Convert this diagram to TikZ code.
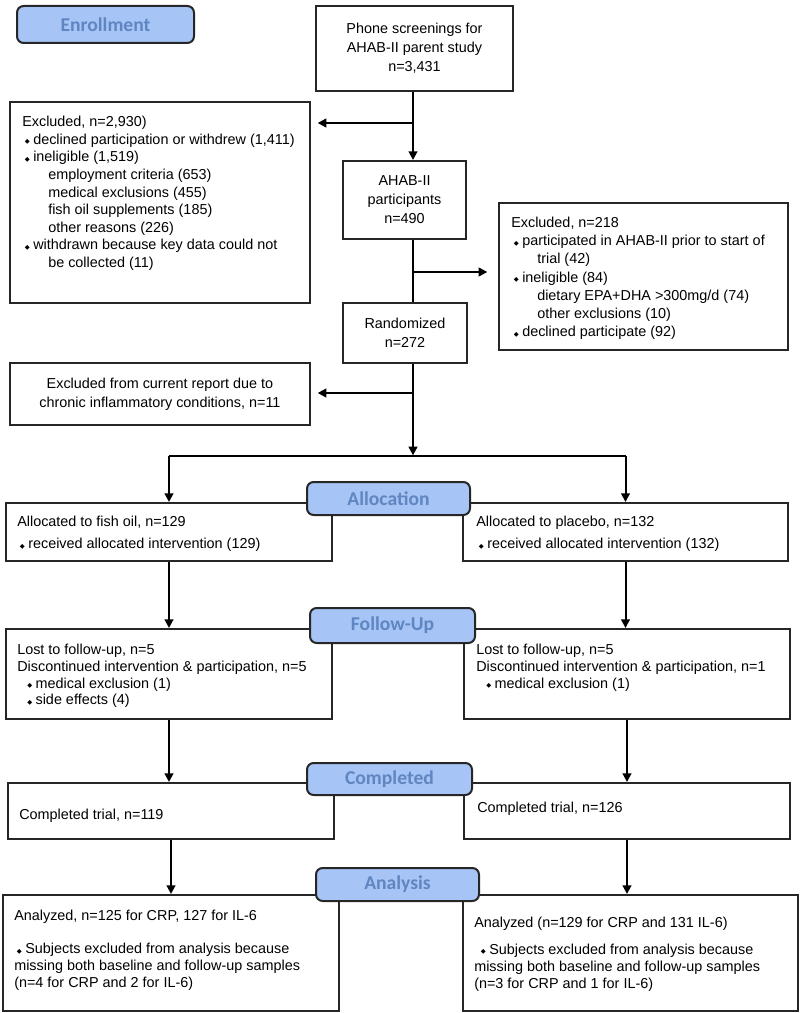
\documentclass[tikz,border=0pt]{standalone}
\usepackage{fontspec}
\setmainfont{Liberation Sans}
\newfontfamily\stagefont{Carlito}
\newfontfamily\symfont{DejaVu Sans}
\usetikzlibrary{arrows.meta}
\definecolor{stagefill}{HTML}{A6C4F5}
\definecolor{stagetext}{HTML}{5F86C0}
\newcommand\dia{\makebox[8.25pt][l]{\hspace{2pt}\raisebox{0.3pt}{\symfont\fontsize{4.8}{5}\selectfont ◆}}}

\begin{document}
\begin{tikzpicture}[x=0.75pt,y=-0.75pt]
\tikzset{sz/.style 2 args={minimum width=#1*0.75pt, minimum height=#2*0.75pt}}
\tikzset{box/.style={draw=black!85, line width=1.5pt, inner sep=0pt, align=center,
    font=\fontsize{10.8}{14.2}\selectfont}}
\tikzset{txt/.style={inner sep=0pt, align=left, font=\fontsize{10.8}{13.2}\selectfont}}
\tikzset{stage/.style={draw=black!85, line width=1.5pt, fill=stagefill, rounded corners=5pt,
    inner sep=0pt, text=stagetext, font=\stagefont\bfseries\fontsize{14.7}{15}\selectfont}}
\tikzset{arr/.style={line width=1.5pt, -{Triangle[width=6.5pt,length=6.5pt]}}}
\tikzset{ln/.style={line width=1.5pt}}
\useasboundingbox (0,0) rectangle (800,1013);

% enrollment
\node[box, sz={197}{85}] (phone) at (414.5,48.5) {Phone screenings for\\AHAB-II parent study\\n=3,431};
\node[box, sz={300}{201}] (exa) at (160,202.5) {};
\node[txt, anchor=north west] (exatxt) at (22,116) {Excluded, n=2,930)\\
  \dia declined participation or withdrew (1,411)\\
  \dia ineligible (1,519)\\
  \hspace*{19.5pt}employment criteria (653)\\
  \hspace*{19.5pt}medical exclusions (455)\\
  \hspace*{19.5pt}fish oil supplements (185)\\
  \hspace*{19.5pt}other reasons (226)\\
  \dia withdrawn because key data could not\\
  \hspace*{19.5pt}be collected (11)};
\node[box, sz={123}{78}] (ahab) at (404.5,200) {AHAB-II\\participants\\n=490};
\node[box, sz={289}{147}] (exb) at (643.5,276.5) {};
\node[txt, anchor=north west, font=\fontsize{10.8}{13.6}\selectfont] (exbtxt) at (511,217) {Excluded, n=218\\
  \dia participated in AHAB-II prior to start of\\
  \hspace*{19.5pt}trial (42)\\
  \dia ineligible (84)\\
  \hspace*{19.5pt}dietary EPA+DHA >300mg/d (74)\\
  \hspace*{19.5pt}other exclusions (10)\\
  \dia declined participate (92)};
\node[box, sz={124}{60}] (rand) at (405,333) {Randomized\\n=272};
\node[box, sz={300}{62}] (exc) at (160,394) {Excluded from current report due to\\chronic inflammatory conditions, n=11};

% allocation
\node[box, sz={326}{58}] (fish) at (169,532) {};
\node[txt, anchor=north west] (fishtxt) at (17,516) {Allocated to fish oil, n=129\\[3.5pt]
  \dia received allocated intervention (129)};
\node[box, sz={325}{58}] (plac) at (625.5,532) {};
\node[txt, anchor=north west] (plactxt) at (476,516) {Allocated to placebo, n=132\\[3.5pt]
  \dia received allocated intervention (132)};

% follow-up
\node[box, sz={326}{90}] (lostl) at (169,674) {};
\node[txt, anchor=north west, font=\fontsize{10.8}{12.5}\selectfont] (lostltxt) at (17,644) {Lost to follow-up, n=5\\
  Discontinued intervention \& participation, n=5\\
  \hspace*{5.5pt}\dia medical exclusion (1)\\
  \hspace*{5.5pt}\dia side effects (4)};
\node[box, sz={326}{90}] (lostr) at (627,674) {};
\node[txt, anchor=north west, font=\fontsize{10.8}{12.5}\selectfont] (lostrtxt) at (476,644) {Lost to follow-up, n=5\\
  Discontinued intervention \& participation, n=1\\
  \hspace*{5.5pt}\dia medical exclusion (1)};

% completed
\node[box, sz={326}{56}] (compl) at (171,811) {};
\node[txt, anchor=west] (compltxt) at (19,816) {Completed trial, n=119};
\node[box, sz={326}{56}] (compr) at (627,811) {};
\node[txt, anchor=west] (comprtxt) at (477,809) {Completed trial, n=126};

% analysis
\node[box, sz={336}{116}] (anal) at (171,953) {};
\node[txt, anchor=north west, font=\fontsize{10.8}{12.75}\selectfont] (analtxt) at (14,910) {Analyzed, n=125 for CRP, 127 for IL-6\\[12pt]
  \dia Subjects excluded from analysis because\\
  missing both baseline and follow-up samples\\
  (n=4 for CRP and 2 for IL-6)};
\node[box, sz={335}{116}] (anar) at (630.5,953) {};
\node[txt, anchor=north west, font=\fontsize{10.8}{12.75}\selectfont] (anartxt) at (474,917) {Analyzed (n=129 for CRP and 131 IL-6)\\[7pt]
  \hspace*{3pt}\dia Subjects excluded from analysis because\\
  missing both baseline and follow-up samples\\
  (n=3 for CRP and 1 for IL-6)};

% connectors
\coordinate (spine) at (413,0);
\coordinate (b1) at (spine |- 0,123);
\coordinate (b2) at (spine |- 0,272);
\coordinate (b3) at (spine |- 0,393);
\coordinate (split) at (spine |- 0,456);
\draw[arr] (spine |- phone.south) -- (spine |- ahab.north);
\draw[arr, shorten >=5pt] (b1) -- (b1 -| exa.east);
\draw[ln] (spine |- ahab.south) -- (spine |- rand.north);
\draw[arr, shorten >=8pt] (b2) -- (b2 -| exb.west);
\draw[arr, shorten >=0.5pt] (spine |- rand.south) -- (split);
\draw[arr, shorten >=5pt] (b3) -- (b3 -| exc.east);
\draw[ln] (split -| fish.north) -- (split -| plac.north);
\draw[arr] (split -| fish.north) -- (fish.north);
\draw[arr] (split -| plac.north) -- (plac.north);
\draw[arr] (fish.south) -- (fish.south |- lostl.north);
\draw[arr] (plac.south) -- (plac.south |- lostr.north);
\draw[arr] (lostl.south) -- (lostl.south |- compl.north);
\draw[arr] (lostr.south) -- (lostr.south |- compr.north);
\draw[arr] (compl.south) -- (compl.south |- anal.north);
\draw[arr] (compr.south) -- (compr.south |- anar.north);

% stage labels
\node[stage, sz={177}{37}] (enrol) at (105.5,24.5) {Enrollment};
\node[stage, sz={163}{33}] (alloc) at (388.5,498.5) {Allocation};
\node[stage, sz={165}{35}] (follow) at (392.5,625.5) {Follow-Up};
\node[stage, sz={165}{32}] (complab) at (389.5,779) {Completed};
\node[stage, sz={163}{33}] (analysis) at (397.5,884.5) {Analysis};
\end{tikzpicture}
\end{document}
